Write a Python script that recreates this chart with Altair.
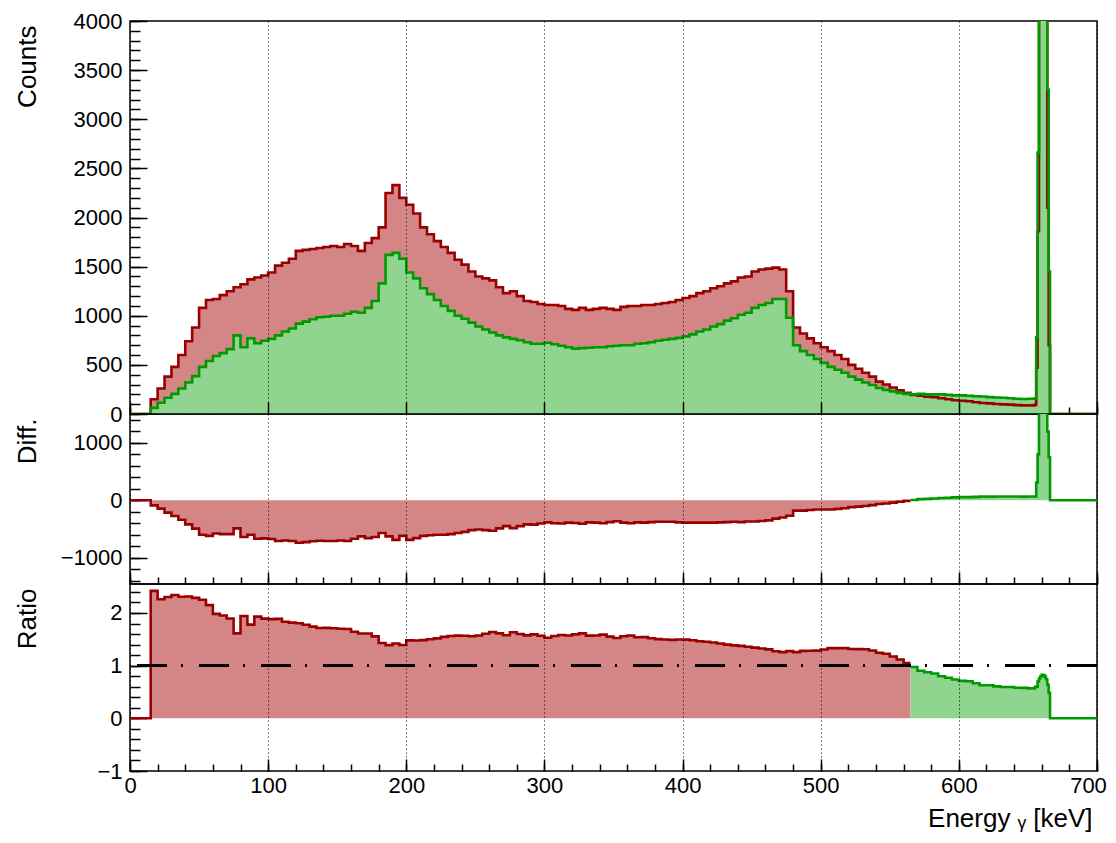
import altair as alt
import pandas as pd

# ---------------- data ----------------
# bin left edges [keV]: 5 keV bins, 1 keV bins across the 662 keV photopeak
BIN_LO = list(range(0, 655, 5)) + list(range(655, 670)) + list(range(670, 700, 5))
E_MAX = 700
SPLIT = 565  # first bin where the green spectrum exceeds the red one (high-energy side)

RED_COUNTS = [
    0, 0, 0, 150, 260, 380, 480, 600, 740, 880,                    # 0-45
    1080, 1160, 1170, 1210, 1250, 1290, 1320, 1370, 1390, 1410,    # 50-95
    1440, 1510, 1540, 1580, 1660, 1670, 1680, 1690, 1700, 1710,    # 100-145
    1700, 1730, 1710, 1660, 1740, 1790, 1900, 2250, 2330, 2200,    # 150-195
    2130, 2040, 1900, 1830, 1760, 1700, 1640, 1570, 1520, 1450,    # 200-245
    1400, 1380, 1360, 1290, 1230, 1250, 1200, 1150, 1140, 1120,    # 250-295
    1110, 1110, 1100, 1070, 1060, 1080, 1060, 1070, 1080, 1070,    # 300-345
    1060, 1090, 1100, 1100, 1110, 1110, 1120, 1130, 1140, 1160,    # 350-395
    1180, 1200, 1230, 1250, 1280, 1300, 1330, 1350, 1390, 1400,    # 400-445
    1450, 1470, 1480, 1490, 1470, 1250, 880, 820, 770, 720,        # 450-495
    680, 640, 600, 560, 500, 460, 420, 380, 330, 300,              # 500-545
    270, 240, 215, 195, 185, 175, 170, 160, 150, 140,              # 550-595
    135, 130, 120, 112, 108, 102, 98, 95, 90, 88,                  # 600-645
    88,                                                            # 650
    95, 470, 1860, 5300, 9600, 12400, 12300, 9500, 5200, 2100,     # 655-664
    700, 0, 0, 0, 0,                                               # 665-669
    0, 0, 0, 0, 0, 0,                                              # 670-695
]

GREEN_COUNTS = [
    0, 0, 0, 62, 115, 165, 205, 260, 320, 385,                     # 0-45
    480, 540, 590, 620, 660, 800, 680, 770, 720, 745,              # 50-95
    765, 800, 840, 870, 920, 940, 965, 985, 990, 1000,             # 100-145
    1000, 1020, 1040, 1030, 1080, 1150, 1330, 1620, 1640, 1580,    # 150-195
    1440, 1380, 1280, 1220, 1160, 1100, 1050, 1000, 970, 930,      # 200-245
    890, 860, 830, 800, 780, 765, 750, 730, 715, 715,              # 250-295
    725, 710, 695, 680, 665, 670, 675, 680, 680, 690,              # 300-345
    695, 700, 700, 715, 720, 730, 745, 755, 765, 775,              # 350-395
    790, 810, 840, 860, 890, 915, 950, 975, 1010, 1030,            # 400-445
    1080, 1110, 1130, 1170, 1170, 980, 700, 640, 600, 560,         # 450-495
    520, 480, 450, 420, 380, 350, 320, 295, 265, 245,              # 500-545
    230, 215, 205, 200, 205, 200, 200, 200, 195, 190,              # 550-595
    190, 185, 180, 178, 172, 168, 165, 160, 155, 152,              # 600-645
    155,                                                           # 650
    160, 780, 2660, 7000, 12000, 15000, 15000, 12000, 7000, 3300,  # 655-664
    1450, 0, 0, 0, 0,                                              # 665-669
    0, 0, 0, 0, 0, 0,                                              # 670-695
]

assert len(RED_COUNTS) == len(BIN_LO) == len(GREEN_COUNTS)

DIFF = [g - r for r, g in zip(RED_COUNTS, GREEN_COUNTS)]
RATIO = [(r / g if g > 0 else 0.0) for r, g in zip(RED_COUNTS, GREEN_COUNTS)]

# tick values
X_MAJOR = list(range(0, 701, 100))
X_MINOR = list(range(0, 701, 20))
TOP_MAJOR = list(range(0, 4001, 500))
TOP_MINOR = list(range(0, 4001, 100))
MID_MAJOR = [-1000, 0, 1000]
MID_MINOR = list(range(-1400, 1401, 200))
BOT_MAJOR = [-1, 0, 1, 2]
BOT_MINOR = [round(-1 + 0.2 * k, 1) for k in range(18)]

# ---------------- styling ----------------
FONT = "Liberation Sans"
RED_LINE = "#990000"
GREEN_LINE = "#009900"
RED_FILL = "#d48686"
GREEN_FILL = "#8fd58f"
W = 967
H_TOP, H_MID, H_BOT = 393, 170, 187


def steps(xs, vals, end):
    return pd.DataFrame({"E": list(xs) + [end], "v": list(vals) + [vals[-1]]})


red_idx = [i for i, e in enumerate(BIN_LO) if e < SPLIT]
grn_idx = [i for i, e in enumerate(BIN_LO) if e >= SPLIT]
lo_red = [BIN_LO[i] for i in red_idx]
lo_grn = [BIN_LO[i] for i in grn_idx]

df_top_red = steps(BIN_LO, RED_COUNTS, E_MAX)
df_top_grn = steps(BIN_LO, GREEN_COUNTS, E_MAX)
df_diff_red = steps(lo_red, [DIFF[i] for i in red_idx], SPLIT)
df_diff_grn = steps(lo_grn, [DIFF[i] for i in grn_idx], E_MAX)
df_rat_red = steps(lo_red, [RATIO[i] for i in red_idx], SPLIT)
df_rat_grn = steps(lo_grn, [RATIO[i] for i in grn_idx], E_MAX)

XS = alt.Scale(domain=[0, E_MAX], nice=False, zero=False)
TICK_W = 1.5


def x_major(show_labels):
    # major x ticks (pointing inward), dotted grid, labels on the lowest panel only
    kw = dict(orient="bottom", offset=-12, values=X_MAJOR, tickSize=12, tickWidth=TICK_W,
              tickColor="black", domain=False, grid=True, gridColor="black",
              gridDash=[1, 3], gridWidth=1, gridOpacity=1, zindex=1,
              labelFlush=False, labelOverlap=False)
    if show_labels:
        kw.update(labels=True, format="d", labelPadding=4,
                  labelOffset={"condition": {"test": "datum.value === 700", "value": -9},
                               "value": 0},
                  title="Energy ᵧ [keV]", titleAnchor="end", titleAlign="right",
                  titleBaseline="alphabetic", titleX=962, titleY=67)
    else:
        kw.update(labels=False, title=None)
    return alt.Axis(**kw)


def x_minor():
    return alt.Axis(orient="bottom", offset=-7, values=X_MINOR, tickSize=7, tickWidth=TICK_W,
                    tickColor="black", domain=False, grid=False, labels=False, title=None)


def y_major(values, title):
    return alt.Axis(orient="left", offset=-17, values=values, tickSize=17, tickWidth=TICK_W,
                    tickColor="black", domain=False, grid=False, format="d",
                    labelPadding=8, labelFlush=False, labelOverlap=False,
                    title=title, titleAnchor="end", titleAlign="right",
                    titleBaseline="alphabetic", titleAngle=-90, titleX=-112, titleY=4)


def y_minor(values):
    return alt.Axis(orient="left", offset=-10, values=values, tickSize=10, tickWidth=TICK_W,
                    tickColor="black", domain=False, grid=False, labels=False, title=None)


def area(df, color, ys, xaxis=None, yaxis=None):
    return alt.Chart(df).mark_area(interpolate="step-after", color=color, clip=True).encode(
        x=alt.X("E:Q", scale=XS, axis=xaxis),
        y=alt.Y("v:Q", scale=ys, axis=yaxis),
        y2=alt.datum(0),
    )


def line(df, color, ys):
    return alt.Chart(df).mark_line(interpolate="step-after", color=color, strokeWidth=2.6,
                                   clip=True).encode(
        x=alt.X("E:Q", scale=XS, axis=None),
        y=alt.Y("v:Q", scale=ys, axis=None),
    )


def minor_ticks(df, ys, ymin):
    return alt.Chart(df).mark_line(opacity=0, clip=True).encode(
        x=alt.X("E:Q", scale=XS, axis=x_minor()),
        y=alt.Y("v:Q", scale=ys, axis=y_minor(ymin)),
    )


# ---------------- top panel: counts ----------------
YS_TOP = alt.Scale(domain=[0, 4000], nice=False, zero=False)
top = alt.layer(
    area(df_top_red, RED_FILL, YS_TOP, x_major(False), y_major(TOP_MAJOR, "Counts")),
    area(df_top_grn, GREEN_FILL, YS_TOP),
    line(df_top_red, RED_LINE, YS_TOP),
    line(df_top_grn, GREEN_LINE, YS_TOP),
    minor_ticks(df_top_red, YS_TOP, TOP_MINOR),
).resolve_axis(x="independent", y="independent").properties(width=W, height=H_TOP)

# ---------------- middle panel: difference ----------------
YS_MID = alt.Scale(domain=[-1460, 1505], nice=False, zero=False)
mid = alt.layer(
    area(df_diff_red, RED_FILL, YS_MID, x_major(False), y_major(MID_MAJOR, "Diff.")),
    area(df_diff_grn, GREEN_FILL, YS_MID),
    line(df_diff_red, RED_LINE, YS_MID),
    line(df_diff_grn, GREEN_LINE, YS_MID),
    minor_ticks(df_diff_red, YS_MID, MID_MINOR),
).resolve_axis(x="independent", y="independent").properties(width=W, height=H_MID)

# ---------------- bottom panel: ratio ----------------
YS_BOT = alt.Scale(domain=[-1, 2.55], nice=False, zero=False)
unity = alt.Chart(df_rat_red).mark_rule(color="black", strokeWidth=2.5, clip=True,
                                        strokeDash=[30, 16, 2, 14]).encode(
    y=alt.YDatum(1, scale=YS_BOT, axis=None)
)
bot = alt.layer(
    area(df_rat_red, RED_FILL, YS_BOT, x_major(True), y_major(BOT_MAJOR, "Ratio")),
    area(df_rat_grn, GREEN_FILL, YS_BOT),
    line(df_rat_red, RED_LINE, YS_BOT),
    line(df_rat_grn, GREEN_LINE, YS_BOT),
    unity,
    minor_ticks(df_rat_red, YS_BOT, BOT_MINOR),
).resolve_axis(x="independent", y="independent").properties(width=W, height=H_BOT)

chart = alt.vconcat(top, mid, bot, spacing=0, bounds="flush").properties(
    padding={"left": 5, "top": 1, "right": 0, "bottom": 0}
).configure_view(
    stroke="black", strokeWidth=1.5
).configure_axis(
    labelFont=FONT, titleFont=FONT, labelFontSize=22, titleFontSize=26,
    titleFontWeight="normal", labelColor="black", titleColor="black",
)

chart.save("out.html", embed_options={"renderer": "svg", "actions": False})
